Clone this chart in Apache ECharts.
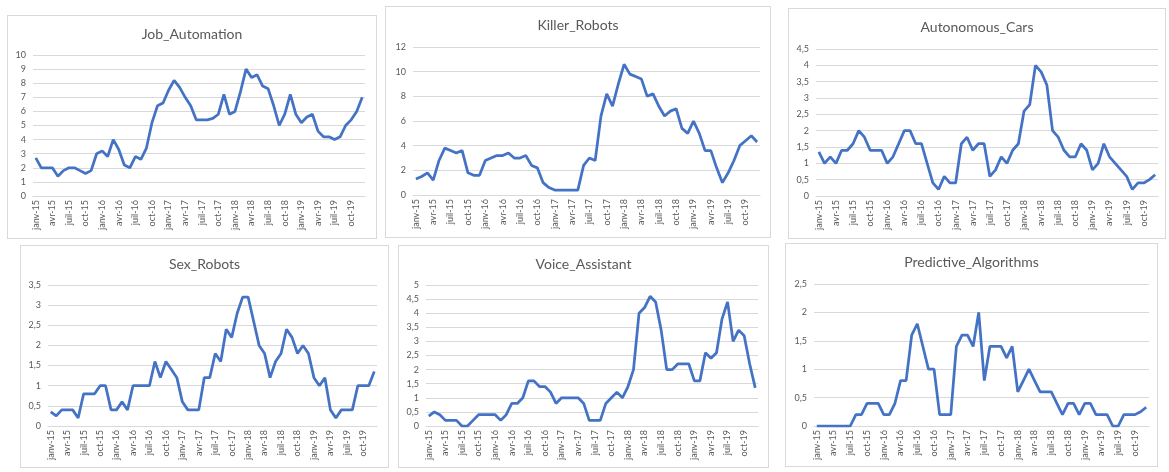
<!DOCTYPE html>
<html>
<head>
<meta charset="utf-8">
<script src="https://cdn.jsdelivr.net/npm/echarts@6/dist/echarts.min.js"></script>
<style>
	body { margin: 0; background: #fff; }
	#page { position: relative; width: 1169px; height: 472px; overflow: hidden; }
	.panel { position: absolute; border: 1px solid #d9d9d9; box-sizing: border-box; background: #fff; }
</style>
</head>
<body>
<div id="page">
	<div class="panel" id="c0" style="left:7px;top:15px;width:370px;height:224px"></div>
	<div class="panel" id="c1" style="left:385px;top:6px;width:386px;height:232px"></div>
	<div class="panel" id="c2" style="left:788px;top:8px;width:378px;height:231px"></div>
	<div class="panel" id="c3" style="left:20px;top:245px;width:369px;height:223px"></div>
	<div class="panel" id="c4" style="left:398px;top:245px;width:371px;height:223px"></div>
	<div class="panel" id="c5" style="left:785px;top:243px;width:373px;height:224px"></div>
</div>
<script>
// mois en francais, comme dans le tableur
var monthNames = ['janv', 'févr', 'mars', 'avr', 'mai', 'juin', 'juil', 'août', 'sept', 'oct', 'nov', 'déc'];
var years = ['15', '16', '17', '18', '19'];

var titles = ['Job_Automation', 'Killer_Robots', 'Autonomous_Cars', 'Sex_Robots', 'Voice_Assistant', 'Predictive_Algorithms'];

var jobAutomation = [2.7, 2.0, 2.0, 2.0, 1.4, 1.8, 2.0, 2.0, 1.8, 1.6, 1.8, 3.0,
	3.2, 2.8, 4.0, 3.3, 2.2, 2.0, 2.8, 2.6, 3.4, 5.2, 6.4, 6.6,
	7.5, 8.2, 7.7, 7.0, 6.4, 5.4, 5.4, 5.4, 5.5, 5.8, 7.2, 5.8,
	6.0, 7.4, 9.0, 8.4, 8.6, 7.8, 7.6, 6.4, 5.0, 5.8, 7.2, 5.8,
	5.2, 5.6, 5.8, 4.6, 4.2, 4.2, 4.0, 4.2, 5.0, 5.4, 6.0, 7.0];
var killerRobots = [1.3, 1.5, 1.8, 1.2, 2.8, 3.8, 3.6, 3.4, 3.6, 1.8, 1.6, 1.6,
	2.8, 3.0, 3.2, 3.2, 3.4, 3.0, 3.0, 3.2, 2.4, 2.2, 1.0, 0.6,
	0.4, 0.4, 0.4, 0.4, 0.4, 2.4, 3.0, 2.8, 6.4, 8.2, 7.2, 9.0,
	10.6, 9.8, 9.6, 9.4, 8.0, 8.2, 7.2, 6.4, 6.8, 7.0, 5.4, 5.0,
	6.0, 5.0, 3.6, 3.6, 2.2, 1.0, 1.8, 2.8, 4.0, 4.4, 4.8, 4.3];
var autonomousCars = [1.35, 1.0, 1.2, 1.0, 1.4, 1.4, 1.6, 2.0, 1.8, 1.4, 1.4, 1.4,
	1.0, 1.2, 1.6, 2.0, 2.0, 1.6, 1.6, 1.0, 0.4, 0.2, 0.6, 0.4,
	0.4, 1.6, 1.8, 1.4, 1.6, 1.6, 0.6, 0.8, 1.2, 1.0, 1.4, 1.6,
	2.6, 2.8, 4.0, 3.8, 3.4, 2.0, 1.8, 1.4, 1.2, 1.2, 1.6, 1.4,
	0.8, 1.0, 1.6, 1.2, 1.0, 0.8, 0.6, 0.2, 0.4, 0.4, 0.5, 0.65];
var sexRobots = [0.35, 0.25, 0.4, 0.4, 0.4, 0.2, 0.8, 0.8, 0.8, 1.0, 1.0, 0.4,
	0.4, 0.6, 0.4, 1.0, 1.0, 1.0, 1.0, 1.6, 1.2, 1.6, 1.4, 1.2,
	0.6, 0.4, 0.4, 0.4, 1.2, 1.2, 1.8, 1.6, 2.4, 2.2, 2.8, 3.2,
	3.2, 2.6, 2.0, 1.8, 1.2, 1.6, 1.8, 2.4, 2.2, 1.8, 2.0, 1.8,
	1.2, 1.0, 1.2, 0.4, 0.2, 0.4, 0.4, 0.4, 1.0, 1.0, 1.0, 1.35];
var voiceAssistant = [0.35, 0.5, 0.4, 0.2, 0.2, 0.2, 0.0, 0.0, 0.2, 0.4, 0.4, 0.4,
	0.4, 0.2, 0.4, 0.8, 0.8, 1.0, 1.6, 1.6, 1.4, 1.4, 1.2, 0.8,
	1.0, 1.0, 1.0, 1.0, 0.8, 0.2, 0.2, 0.2, 0.8, 1.0, 1.2, 1.0,
	1.4, 2.0, 4.0, 4.2, 4.6, 4.4, 3.4, 2.0, 2.0, 2.2, 2.2, 2.2,
	1.6, 1.6, 2.6, 2.4, 2.6, 3.8, 4.4, 3.0, 3.4, 3.2, 2.2, 1.35];
var predictiveAlgorithms = [0, 0, 0, 0, 0, 0, 0, 0.2, 0.2, 0.4, 0.4, 0.4,
	0.2, 0.2, 0.4, 0.8, 0.8, 1.6, 1.8, 1.4, 1.0, 1.0, 0.2, 0.2,
	0.2, 1.4, 1.6, 1.6, 1.4, 2.0, 0.8, 1.4, 1.4, 1.4, 1.2, 1.4,
	0.6, 0.8, 1.0, 0.8, 0.6, 0.6, 0.6, 0.4, 0.2, 0.4, 0.4, 0.2,
	0.4, 0.4, 0.2, 0.2, 0.2, 0, 0, 0.2, 0.2, 0.2, 0.25, 0.33];

var yMax = [10, 12, 4.5, 3.5, 5, 2.5];
var yStep = [1, 2, 0.5, 0.5, 0.5, 0.5];

var months = [];
for (var y = 0; y < years.length; y++) {
	for (var m = 0; m < monthNames.length; m++) {
		months.push(monthNames[m] + '-' + years[y]);
	}
}

var seriesList = [jobAutomation, killerRobots, autonomousCars, sexRobots, voiceAssistant, predictiveAlgorithms];

// marges de chaque zone de trace (gauche, droite, haut, bas)
var grids = [
	[25, 11, 39, 42],
	[27, 10, 40, 42],
	[27, 7, 40, 42],
	[27, 11, 39, 41],
	[27, 10, 39, 41],
	[28, 8, 40, 40]
];

var font = 'Lato, "Open Sans", sans-serif';

function drawChart(i) {
	var myChart = echarts.init(document.getElementById('c' + i));
	var g = grids[i];
	var option = {
		animation: false,
		title: {
			text: titles[i],
			left: 'center',
			top: 6,
			textStyle: { fontSize: 14, fontWeight: 'normal', color: '#595959', fontFamily: font }
		},
		grid: { left: g[0], right: g[1], top: g[2], bottom: g[3] },
		xAxis: {
			type: 'category',
			data: months,
			boundaryGap: true,
			axisLine: { lineStyle: { color: '#d9d9d9', width: 1 } },
			axisTick: { show: false },
			axisLabel: {
				interval: 2,
				rotate: 90,
				fontSize: 9,
				margin: 4,
				color: '#595959',
				fontFamily: font
			}
		},
		yAxis: {
			type: 'value',
			min: 0,
			max: yMax[i],
			interval: yStep[i],
			axisLine: { show: false },
			axisTick: { show: false },
			splitLine: { lineStyle: { color: '#d9d9d9', width: 1 } },
			axisLabel: {
				fontSize: 9,
				margin: 7,
				color: '#595959',
				fontFamily: font,
				formatter: function(v) {
					return String(v).replace('.', ',');
				}
			}
		},
		series: [{
			name: titles[i],
			type: 'line',
			data: seriesList[i],
			showSymbol: false,
			lineStyle: { color: '#4472c4', width: 2.75 },
			itemStyle: { color: '#4472c4' }
		}]
	};
	myChart.setOption(option);
}

for (var i = 0; i < 6; i++) {
	drawChart(i);
}
</script>
</body>
</html>
